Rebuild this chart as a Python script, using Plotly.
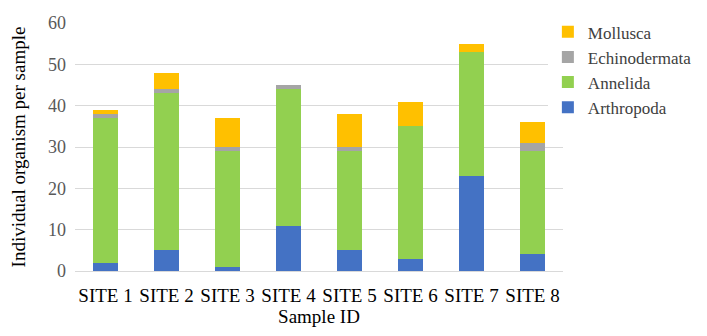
import plotly.graph_objects as go

# Sample sites and counts per phylum
sites = ['SITE 1', 'SITE 2', 'SITE 3', 'SITE 4', 'SITE 5', 'SITE 6', 'SITE 7', 'SITE 8']
arthropoda = [2, 5, 1, 11, 5, 3, 23, 4]
annelida = [35, 38, 28, 33, 24, 32, 30, 25]
echinodermata = [1, 1, 1, 1, 1, 0, 0, 2]
mollusca = [1, 4, 7, 0, 8, 6, 2, 5]

series = [
    ('Arthropoda', arthropoda, '#4472C4'),
    ('Annelida', annelida, '#92D050'),
    ('Echinodermata', echinodermata, '#A5A5A5'),
    ('Mollusca', mollusca, '#FFC000'),
]

serif = 'Liberation Serif'

fig = go.Figure()
for name, vals, color in series:
    fig.add_trace(go.Bar(x=sites, y=vals, name=name, marker=dict(color=color, line=dict(width=0))))

# page body has an 8px margin, so the figure is sized/offset to compensate
fig.update_layout(
    barmode='stack',
    bargap=0.59,
    width=699, height=328,
    margin=dict(l=67, r=144, t=15, b=65, autoexpand=False),
    plot_bgcolor='white', paper_bgcolor='white',
    font=dict(family=serif, size=18, color='black'),
    legend=dict(x=0.969, xanchor='left', y=1.035, yanchor='top',
                traceorder='reversed', font=dict(family=serif, size=17, color='#404040'),
                itemwidth=30, tracegroupgap=0),
    showlegend=True,
)

fig.update_xaxes(title_text='Sample ID', title_standoff=3,
                 title_font=dict(family=serif, size=19, color='black'),
                 tickfont=dict(family=serif, size=19, color='black'), ticklabelstandoff=7,
                 showline=True, linecolor='#d9d9d9', linewidth=1, ticks='')
fig.update_yaxes(title_text='Individual organism per sample', range=[0, 60], dtick=10,
                 title_font=dict(family=serif, size=19, color='black'),
                 gridcolor='#d9d9d9', gridwidth=1, zeroline=False, ticklabelstandoff=8,
                 tickfont=dict(family=serif, size=18, color='#595959'), title_standoff=17)

fig.write_html('out.html')
